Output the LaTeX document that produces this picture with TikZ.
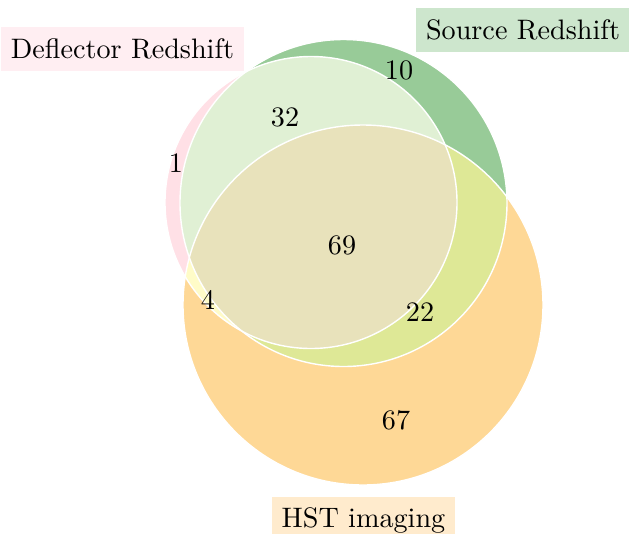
\documentclass[tikz,border=0pt]{standalone}
\usepackage{tikz}

\definecolor{defl}{RGB}{255,224,230}
\definecolor{src}{RGB}{152,203,152}
\definecolor{hst}{RGB}{254,216,150}
\definecolor{deflsrc}{RGB}{224,240,212}
\definecolor{deflhst}{RGB}{255,252,200}
\definecolor{srchst}{RGB}{222,232,150}
\definecolor{allthree}{RGB}{232,226,187}
\definecolor{deflbox}{RGB}{255,238,242}
\definecolor{srcbox}{RGB}{205,230,205}
\definecolor{hstbox}{RGB}{255,235,205}

\begin{document}
\begin{tikzpicture}[x=0.355pt, y=0.355pt,
    setlabel/.style={inner xsep=3.5pt, inner ysep=4pt},
    count/.style={inner sep=0pt},
    outline/.style={draw=white, line width=0.5pt}]
            \useasboundingbox (0,0) rectangle (629,533);
            \coordinate (dc) at (311,330.5);
            \coordinate (sc) at (343.5,330);
            \coordinate (hc) at (363,228);
            % single sets
            \fill[defl] (dc) circle[radius=146];
            \fill[src] (sc) circle[radius=163.5];
            \fill[hst] (hc) circle[radius=180];
            % pairwise overlaps
            \begin{scope}
                \clip (dc) circle[radius=146];
                \fill[deflsrc] (sc) circle[radius=163.5];
                \fill[deflhst] (hc) circle[radius=180];
            \end{scope}
            \begin{scope}
                \clip (sc) circle[radius=163.5];
                \fill[srchst] (hc) circle[radius=180];
            \end{scope}
            % all three
            \begin{scope}
                \clip (dc) circle[radius=146];
                \clip (sc) circle[radius=163.5];
                \fill[allthree] (hc) circle[radius=180];
            \end{scope}
            \draw[outline] (dc) circle[radius=146];
            \draw[outline] (sc) circle[radius=163.5];
            \draw[outline] (hc) circle[radius=180];
            % set names
            \node[setlabel, fill=deflbox] (defl) at (122.5,484) {Deflector Redshift};
            \node[setlabel, fill=srcbox] (src) at (523,503) {Source Redshift};
            \node[setlabel, fill=hstbox, anchor=north] (hst) at (363.5,37) {HST imaging};
            % counts
            \node[count] (n10) at (399,463) {10};
            \node[count] (n32) at (285,416) {32};
            \node[count] (n1) at (176,370) {1};
            \node[count] (n69) at (342,288) {69};
            \node[count] (n4) at (208,233) {4};
            \node[count] (n22) at (420,221) {22};
            \node[count] (n67) at (396,113) {67};
        \end{tikzpicture}
\end{document}
